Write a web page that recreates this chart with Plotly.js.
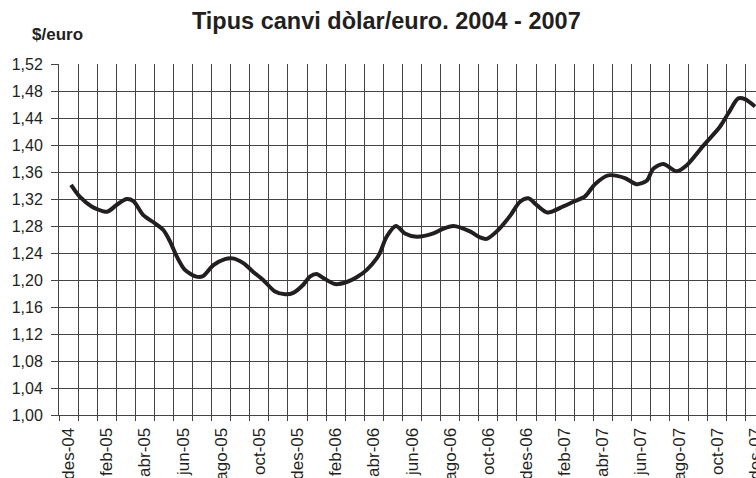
<!DOCTYPE html>
<html>
<head>
<meta charset="utf-8">
<script src="https://cdn.plot.ly/plotly-3.0.1.min.js"></script>
<style>html,body{margin:0;padding:0;overflow:hidden;background:#fff}</style>
</head>
<body>
<div id="chart" style="width:756px;height:478px"></div>
<script>
// Month labels (every two months), placed at mid-month of each labelled month
const monthLabels = ["des-04","feb-05","abr-05","jun-05","ago-05","oct-05","des-05","feb-06","abr-06","jun-06","ago-06","oct-06","des-06","feb-07","abr-07","jun-07","ago-07","oct-07","des-07"];
const labelPos = [0.5,2.5,4.5,6.5,8.5,10.5,12.5,14.5,16.5,18.5,20.5,22.5,24.5,26.5,28.5,30.5,32.5,34.5,36.5];

// Exchange rate series: x = months elapsed since 1 Dec 2004, y = $/euro
const monthsX = [0.63,1.1,1.71,2.41,2.6,3.1,3.55,3.9,4.42,5.03,5.47,5.82,6.17,6.6,7.2,7.56,8.09,8.7,9.1,9.66,10.18,10.7,11.32,11.85,12.28,12.8,13.15,13.5,13.85,14.47,15.08,15.6,16.13,16.65,16.82,17.17,17.66,18.13,18.75,19.62,20.06,20.67,21.54,22.07,22.42,22.94,23.64,24.16,24.6,25.04,25.6,26.43,26.96,27.57,28.09,28.79,29.66,30.27,30.8,31.15,31.67,32.37,32.9,33.77,34.64,35.08,35.6,35.95,36.48];
const rate = [1.341,1.323,1.309,1.301,1.302,1.313,1.320,1.317,1.296,1.284,1.274,1.257,1.235,1.215,1.205,1.206,1.222,1.231,1.232,1.225,1.212,1.200,1.183,1.179,1.181,1.193,1.205,1.209,1.203,1.194,1.197,1.204,1.215,1.232,1.240,1.264,1.280,1.269,1.264,1.269,1.275,1.280,1.272,1.263,1.261,1.272,1.295,1.316,1.321,1.311,1.300,1.309,1.316,1.324,1.342,1.355,1.351,1.342,1.347,1.365,1.372,1.361,1.370,1.399,1.427,1.447,1.469,1.468,1.457];

const ink = "#231f20";
const gridCol = "#444444";
const fontFam = "'Liberation Sans', Arial, Helvetica, sans-serif";

const trace = {
  x: monthsX, y: rate, type: "scatter", mode: "lines",
  line: {color: ink, width: 4, shape: "spline", smoothing: 0.8},
  hoverinfo: "skip", showlegend: false
};

const layout = {
  width: 756, height: 478,
  margin: {l: 59, r: 0, t: 64, b: 63, pad: 0},
  paper_bgcolor: "#fff", plot_bgcolor: "#fff",
  separators: ",.",
  font: {family: fontFam, color: ink, size: 16},
  title: {
    text: "<b>Tipus canvi dòlar/euro. 2004 - 2007</b>",
    font: {family: fontFam, size: 23.5, color: ink},
    x: 0.511, xref: "container", xanchor: "center",
    y: 0.957, yref: "container", yanchor: "middle"
  },
  annotations: [{
    text: "<b>$/euro</b>", xref: "paper", yref: "paper",
    x: -0.042, y: 1.0, yshift: 30, xanchor: "left", yanchor: "middle",
    showarrow: false, font: {family: fontFam, size: 17, color: ink}
  }],
  xaxis: {
    range: [0, 36.53],
    tickmode: "array", tickvals: labelPos, ticktext: monthLabels,
    tickangle: -90, ticks: "outside", ticklen: 5, tickcolor: "rgba(0,0,0,0)",
    ticklabeloverflow: "allow",
    showgrid: false, zeroline: false,
    showline: true, linecolor: gridCol, linewidth: 1,
    tickfont: {family: fontFam, size: 17, color: ink},
    minor: {tick0: 0, dtick: 1, showgrid: true, gridcolor: gridCol, gridwidth: 1,
            ticks: "outside", ticklen: 5, tickcolor: gridCol}
  },
  yaxis: {
    range: [1.0, 1.52], tick0: 1.0, dtick: 0.04, tickformat: ".2f",
    ticks: "outside", ticklen: 7, tickcolor: gridCol,
    ticklabelstandoff: 5,
    showgrid: true, gridcolor: gridCol, gridwidth: 1, zeroline: false,
    showline: true, linecolor: gridCol, linewidth: 1,
    tickfont: {family: fontFam, size: 16, color: ink}
  }
};

Plotly.newPlot("chart", [trace], layout, {staticPlot: true, displayModeBar: false});
</script>
</body>
</html>
